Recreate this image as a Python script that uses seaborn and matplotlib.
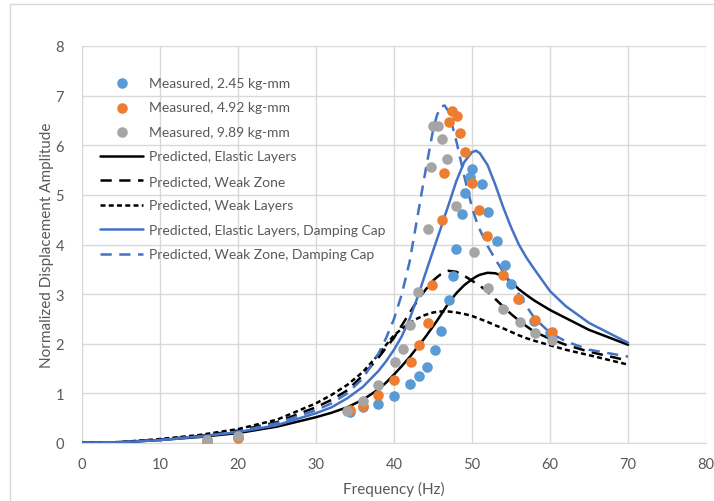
import matplotlib
matplotlib.use('Agg')
import matplotlib.pyplot as plt
import seaborn as sns
from matplotlib.patches import Rectangle

# Measured points, 2.45 kg-mm
f_245 = [16, 20, 34.4, 36, 38, 40, 42, 43.2, 44.2, 45.3, 46, 47.1, 47.6, 48, 48.7,
         49.1, 49.7, 50, 51.3, 52, 53.2, 54.2, 55, 56, 58, 60]
amp_245 = [0.06, 0.12, 0.63, 0.72, 0.79, 0.95, 1.19, 1.35, 1.53, 1.87, 2.25, 2.88, 3.36, 3.91, 4.62,
           5.04, 5.37, 5.53, 5.22, 4.65, 4.07, 3.58, 3.2, 2.9, 2.45, 2.22]

# Measured points, 4.92 kg-mm
f_492 = [16, 20, 34.3, 36, 38, 40, 42.2, 43.2, 44.3, 44.9, 46.2, 46.4, 47.1, 47.4, 48.1,
         48.4, 49.1, 50, 50.9, 51.9, 54, 55.9, 58.1, 60.2]
amp_492 = [0.03, 0.1, 0.66, 0.75, 0.97, 1.26, 1.64, 1.97, 2.42, 3.18, 4.49, 5.44, 6.47, 6.69, 6.58,
           6.25, 5.86, 5.24, 4.69, 4.17, 3.38, 2.91, 2.47, 2.24]

# Measured points, 9.89 kg-mm
f_989 = [16, 20, 34, 36, 38, 40.1, 41.1, 42, 43.1, 44.3, 44.7, 45, 45.7, 46.2, 46.8,
         48, 50.3, 52.1, 54, 56.2, 58.1, 60.2]
amp_989 = [0.06, 0.14, 0.65, 0.85, 1.17, 1.64, 1.9, 2.37, 3.04, 4.31, 5.57, 6.39, 6.39, 6.12, 5.73,
           4.77, 3.85, 3.13, 2.7, 2.43, 2.22, 2.07]

# Predicted curves (all share one frequency grid)
freq = [0, 5, 10, 15, 20, 25, 30, 32, 34, 36, 38, 39, 40, 41, 42, 43, 44, 45, 45.5, 46,
        46.5, 47, 48, 49, 50, 50.5, 51, 52, 53, 54, 55, 56, 57, 58, 60, 62, 65, 70]
elastic_layers = [0, 0.015, 0.06, 0.12, 0.2, 0.33, 0.52, 0.61, 0.72, 0.87, 1.08, 1.22, 1.38, 1.55,
                  1.73, 1.93, 2.13, 2.35, 2.46, 2.58, 2.7, 2.82, 3.02, 3.18, 3.3, 3.35, 3.39,
                  3.43, 3.42, 3.36, 3.25, 3.1, 2.98, 2.87, 2.68, 2.52, 2.28, 1.98]
weak_zone = [0, 0.02, 0.07, 0.14, 0.25, 0.42, 0.72, 0.87, 1.06, 1.36, 1.72, 1.92, 2.12, 2.37,
             2.62, 2.87, 3.08, 3.27, 3.34, 3.4, 3.44, 3.47, 3.45, 3.37, 3.27, 3.22, 3.17,
             3.05, 2.9, 2.75, 2.6, 2.47, 2.35, 2.24, 2.1, 1.98, 1.84, 1.66]
weak_layers = [0, 0.02, 0.08, 0.16, 0.28, 0.47, 0.8, 0.97, 1.17, 1.43, 1.78, 1.98, 2.17, 2.3,
               2.42, 2.51, 2.58, 2.63, 2.64, 2.65, 2.65, 2.65, 2.63, 2.6, 2.56, 2.53, 2.5,
               2.44, 2.37, 2.31, 2.24, 2.17, 2.11, 2.06, 1.97, 1.88, 1.77, 1.58]
elastic_cap = [0, 0.015, 0.06, 0.13, 0.22, 0.36, 0.6, 0.72, 0.9, 1.13, 1.45, 1.65, 1.88, 2.15,
               2.5, 2.93, 3.4, 3.87, 4.1, 4.33, 4.57, 4.8, 5.28, 5.66, 5.86, 5.89, 5.84,
               5.6, 5.2, 4.75, 4.35, 4.0, 3.73, 3.5, 3.06, 2.76, 2.42, 2.02]
weak_zone_cap = [0, 0.02, 0.06, 0.13, 0.23, 0.4, 0.66, 0.8, 1.0, 1.3, 1.8, 2.12, 2.5, 3.0,
                 3.65, 4.55, 5.45, 6.3, 6.6, 6.78, 6.8, 6.68, 6.08, 5.38, 4.75, 4.5, 4.3,
                 3.97, 3.7, 3.45, 3.22, 3.0, 2.75, 2.52, 2.22, 2.05, 1.88, 1.74]

x_ticks = [0, 10, 20, 30, 40, 50, 60, 70, 80]
y_ticks = [0, 1, 2, 3, 4, 5, 6, 7, 8]

GREY_TEXT = '#595959'
GRID = '#d9d9d9'


def plot_chart():
    sns.set_style('white')
    plt.rcParams['font.family'] = ['Lato', 'DejaVu Sans']

    fig = plt.figure(figsize=(7.14, 5.02), dpi=100)
    # outer chart border like Excel
    fig.patches.append(Rectangle((10 / 714, -0.05), 1.2, 1 - 5 / 502 + 0.05,
                                 transform=fig.transFigure, fill=False,
                                 edgecolor=GRID, linewidth=1))
    ax = fig.add_axes([82 / 714, 58 / 502, 624 / 714, 397 / 502])

    # measured data
    sns.scatterplot(x=f_245, y=amp_245, ax=ax, color='#5B9BD5', s=58, linewidth=0,
                    label='Measured, 2.45 kg-mm', zorder=4)
    sns.scatterplot(x=f_492, y=amp_492, ax=ax, color='#ED7D31', s=58, linewidth=0,
                    label='Measured, 4.92 kg-mm', zorder=4)
    sns.scatterplot(x=f_989, y=amp_989, ax=ax, color='#A5A5A5', s=58, linewidth=0,
                    label='Measured, 9.89 kg-mm', zorder=4)

    # predicted curves
    sns.lineplot(x=freq, y=elastic_layers, ax=ax, color='black', lw=1.8,
                 label='Predicted, Elastic Layers', zorder=3)
    sns.lineplot(x=freq, y=weak_zone, ax=ax, color='black', lw=1.8, linestyle=(0, (4.5, 3)),
                 label='Predicted, Weak Zone', zorder=3)
    sns.lineplot(x=freq, y=weak_layers, ax=ax, color='black', lw=1.8, linestyle=(0, (2, 1.3)),
                 label='Predicted, Weak Layers', zorder=3)
    sns.lineplot(x=freq, y=elastic_cap, ax=ax, color='#4472C4', lw=1.8,
                 label='Predicted, Elastic Layers, Damping Cap', zorder=3)
    sns.lineplot(x=freq, y=weak_zone_cap, ax=ax, color='#4472C4', lw=1.8, linestyle=(0, (4.5, 3)),
                 label='Predicted, Weak Zone, Damping Cap', zorder=3)

    ax.set_xlim(0, 80)
    ax.set_ylim(0, 8)
    ax.set_xticks(x_ticks)
    ax.set_yticks(y_ticks)
    ax.grid(True, color=GRID, linewidth=1)
    ax.set_axisbelow(True)
    for sp in ax.spines.values():
        sp.set_color(GRID)
    ax.spines['top'].set_visible(False)
    ax.spines['right'].set_visible(False)
    ax.tick_params(length=0, labelsize=10.5, labelcolor=GREY_TEXT)
    ax.tick_params(axis='y', pad=13)
    ax.tick_params(axis='x', pad=10)
    ax.set_xlabel('Frequency (Hz)', fontsize=11, color=GREY_TEXT, labelpad=7)
    ax.set_ylabel('Normalized Displacement Amplitude', fontsize=11, color=GREY_TEXT, labelpad=1)

    ax.legend(loc='upper left', bbox_to_anchor=(0.029, 0.922), frameon=False, fontsize=10,
              handlelength=3.1, handletextpad=0.4, labelspacing=0.9, borderpad=0,
              borderaxespad=0, labelcolor=GREY_TEXT)

    fig.savefig('out.png', dpi=100)


def main():
    plot_chart()


if __name__ == "__main__":
    main()
